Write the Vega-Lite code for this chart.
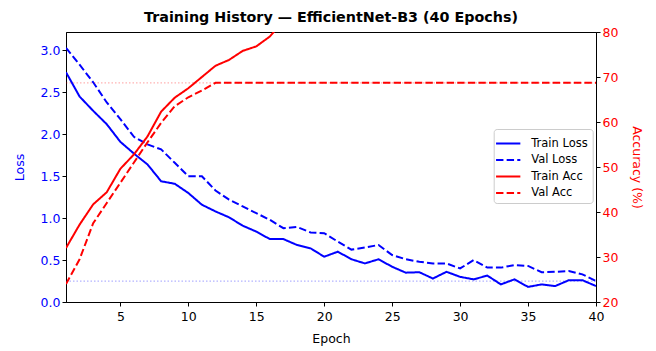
{
  "$schema": "https://vega.github.io/schema/vega-lite/v6.json",
  "width": 530,
  "height": 270,
  "autosize": {"type": "none"},
  "padding": {"left": 66, "top": 32, "right": 60, "bottom": 49},
  "title": {"text": "Training History — EfficientNet-B3 (40 Epochs)", "font": "DejaVu Sans", "fontSize": 14.3, "fontWeight": "bold", "color": "black", "anchor": "middle", "offset": 1},
  "config": {
    "font": "DejaVu Sans",
    "view": {"stroke": "black", "strokeWidth": 1},
    "axis": {"grid": false, "domainColor": "black", "tickColor": "black", "tickSize": 4, "labelFlush": false, "labelOverlap": false, "labelFontSize": 12.5, "titleFontSize": 12.5, "titleFontWeight": "normal", "labelFont": "DejaVu Sans", "titleFont": "DejaVu Sans"}
  },
  "data": {"values": [
    {"epoch": 1, "Train Loss": 2.74, "Val Loss": 3.03, "Train Acc": 32.0, "Val Acc": 24.0},
    {"epoch": 2, "Train Loss": 2.45, "Val Loss": 2.83, "Train Acc": 37.2, "Val Acc": 29.5},
    {"epoch": 3, "Train Loss": 2.28, "Val Loss": 2.62, "Train Acc": 41.7, "Val Acc": 37.5},
    {"epoch": 4, "Train Loss": 2.12, "Val Loss": 2.38, "Train Acc": 44.4, "Val Acc": 42.0},
    {"epoch": 5, "Train Loss": 1.91, "Val Loss": 2.18, "Train Acc": 49.6, "Val Acc": 46.5},
    {"epoch": 6, "Train Loss": 1.77, "Val Loss": 1.97, "Train Acc": 52.8, "Val Acc": 51.0},
    {"epoch": 7, "Train Loss": 1.64, "Val Loss": 1.88, "Train Acc": 56.8, "Val Acc": 55.5},
    {"epoch": 8, "Train Loss": 1.44, "Val Loss": 1.82, "Train Acc": 62.3, "Val Acc": 59.8},
    {"epoch": 9, "Train Loss": 1.41, "Val Loss": 1.66, "Train Acc": 65.4, "Val Acc": 63.5},
    {"epoch": 10, "Train Loss": 1.30, "Val Loss": 1.50, "Train Acc": 67.5, "Val Acc": 65.5},
    {"epoch": 11, "Train Loss": 1.16, "Val Loss": 1.50, "Train Acc": 70.0, "Val Acc": 67.0},
    {"epoch": 12, "Train Loss": 1.08, "Val Loss": 1.33, "Train Acc": 72.5, "Val Acc": 68.7},
    {"epoch": 13, "Train Loss": 1.01, "Val Loss": 1.22, "Train Acc": 73.8, "Val Acc": 68.7},
    {"epoch": 14, "Train Loss": 0.91, "Val Loss": 1.14, "Train Acc": 75.8, "Val Acc": 68.7},
    {"epoch": 15, "Train Loss": 0.84, "Val Loss": 1.06, "Train Acc": 76.8, "Val Acc": 68.7},
    {"epoch": 16, "Train Loss": 0.75, "Val Loss": 0.98, "Train Acc": 79.0, "Val Acc": 68.7},
    {"epoch": 17, "Train Loss": 0.75, "Val Loss": 0.88, "Train Acc": 82.5, "Val Acc": 68.7},
    {"epoch": 18, "Train Loss": 0.68, "Val Loss": 0.895, "Train Acc": 84.2, "Val Acc": 68.7},
    {"epoch": 19, "Train Loss": 0.64, "Val Loss": 0.83, "Train Acc": 85.5, "Val Acc": 68.7},
    {"epoch": 20, "Train Loss": 0.54, "Val Loss": 0.82, "Train Acc": 87.1, "Val Acc": 68.7},
    {"epoch": 21, "Train Loss": 0.60, "Val Loss": 0.72, "Train Acc": 87.9, "Val Acc": 68.7},
    {"epoch": 22, "Train Loss": 0.51, "Val Loss": 0.625, "Train Acc": 89.0, "Val Acc": 68.7},
    {"epoch": 23, "Train Loss": 0.46, "Val Loss": 0.65, "Train Acc": 89.8, "Val Acc": 68.7},
    {"epoch": 24, "Train Loss": 0.51, "Val Loss": 0.68, "Train Acc": 90.3, "Val Acc": 68.7},
    {"epoch": 25, "Train Loss": 0.42, "Val Loss": 0.56, "Train Acc": 91.2, "Val Acc": 68.7},
    {"epoch": 26, "Train Loss": 0.35, "Val Loss": 0.51, "Train Acc": 92.0, "Val Acc": 68.7},
    {"epoch": 27, "Train Loss": 0.355, "Val Loss": 0.48, "Train Acc": 92.4, "Val Acc": 68.7},
    {"epoch": 28, "Train Loss": 0.28, "Val Loss": 0.46, "Train Acc": 93.1, "Val Acc": 68.7},
    {"epoch": 29, "Train Loss": 0.36, "Val Loss": 0.46, "Train Acc": 92.8, "Val Acc": 68.7},
    {"epoch": 30, "Train Loss": 0.30, "Val Loss": 0.40, "Train Acc": 93.6, "Val Acc": 68.7},
    {"epoch": 31, "Train Loss": 0.27, "Val Loss": 0.50, "Train Acc": 94.0, "Val Acc": 68.7},
    {"epoch": 32, "Train Loss": 0.315, "Val Loss": 0.41, "Train Acc": 94.2, "Val Acc": 68.7},
    {"epoch": 33, "Train Loss": 0.21, "Val Loss": 0.41, "Train Acc": 94.9, "Val Acc": 68.7},
    {"epoch": 34, "Train Loss": 0.27, "Val Loss": 0.44, "Train Acc": 94.7, "Val Acc": 68.7},
    {"epoch": 35, "Train Loss": 0.18, "Val Loss": 0.43, "Train Acc": 95.3, "Val Acc": 68.7},
    {"epoch": 36, "Train Loss": 0.21, "Val Loss": 0.355, "Train Acc": 95.5, "Val Acc": 68.7},
    {"epoch": 37, "Train Loss": 0.19, "Val Loss": 0.36, "Train Acc": 95.6, "Val Acc": 68.7},
    {"epoch": 38, "Train Loss": 0.26, "Val Loss": 0.37, "Train Acc": 95.4, "Val Acc": 68.7},
    {"epoch": 39, "Train Loss": 0.26, "Val Loss": 0.33, "Train Acc": 95.8, "Val Acc": 68.7},
    {"epoch": 40, "Train Loss": 0.19, "Val Loss": 0.25, "Train Acc": 96.1, "Val Acc": 68.7}
  ]},
  "transform": [{"fold": ["Train Loss", "Val Loss", "Train Acc", "Val Acc"], "as": ["series", "value"]}],
  "layer": [
    {
      "layer": [
        {
          "transform": [{"filter": "datum.series === 'Val Loss'"}],
          "mark": {"type": "rule", "color": "#0000ff", "opacity": 0.3, "strokeWidth": 1.2, "strokeDash": [1.5, 2]},
          "encoding": {
            "y": {"aggregate": "min", "field": "value", "type": "quantitative", "scale": {"domain": [0, 3.22], "nice": false, "zero": false},
              "axis": {"orient": "left", "title": "Loss", "titleColor": "#0000ff", "labelColor": "#0000ff", "values": [0, 0.5, 1, 1.5, 2, 2.5, 3], "format": ".1f", "titlePadding": 14}}
          }
        },
        {
          "transform": [{"filter": "datum.series === 'Train Loss' || datum.series === 'Val Loss'"}],
          "mark": {"type": "line", "strokeWidth": 2, "clip": true},
          "encoding": {
            "x": {"field": "epoch", "type": "quantitative", "scale": {"domain": [1, 40], "nice": false, "zero": false}, "axis": {"title": "Epoch", "values": [5, 10, 15, 20, 25, 30, 35, 40], "labelColor": "black", "titleColor": "black", "labelPadding": 4, "titlePadding": 10}},
            "y": {"field": "value", "type": "quantitative", "scale": {"domain": [0, 3.22], "nice": false, "zero": false},
              "axis": {"orient": "left", "title": "Loss", "titleColor": "#0000ff", "labelColor": "#0000ff", "values": [0, 0.5, 1, 1.5, 2, 2.5, 3], "format": ".1f", "titlePadding": 14}},
            "color": {"field": "series", "type": "nominal", "title": null,
              "scale": {"domain": ["Train Loss", "Val Loss", "Train Acc", "Val Acc"], "range": ["#0000ff", "#0000ff", "#ff0000", "#ff0000"]},
              "legend": {"orient": "none", "legendX": 427.7, "legendY": 97, "fillColor": "white", "strokeColor": "#cccccc", "cornerRadius": 3, "padding": 4.5, "labelFontSize": 11.5, "labelFont": "DejaVu Sans", "labelColor": "black", "symbolType": "M-1.35,0H1.35", "symbolStrokeWidth": 2, "symbolSize": 324, "rowPadding": 0.5, "labelOffset": 13}},
            "strokeDash": {"field": "series", "type": "nominal", "title": null,
              "scale": {"domain": ["Train Loss", "Val Loss", "Train Acc", "Val Acc"], "range": [[1, 0], [7.4, 3.2], [1, 0], [7.4, 3.2]]},
              "legend": {"orient": "none", "legendX": 427.7, "legendY": 97, "fillColor": "white", "strokeColor": "#cccccc", "cornerRadius": 3, "padding": 4.5, "labelFontSize": 11.5, "labelFont": "DejaVu Sans", "labelColor": "black", "symbolType": "M-1.35,0H1.35", "symbolStrokeWidth": 2, "symbolSize": 324, "rowPadding": 0.5, "labelOffset": 13}}
          }
        }
      ]
    },
    {
      "layer": [
        {
          "transform": [{"filter": "datum.series === 'Val Acc'"}],
          "mark": {"type": "rule", "color": "#ff0000", "opacity": 0.3, "strokeWidth": 1.2, "strokeDash": [1.5, 2]},
          "encoding": {
            "y": {"aggregate": "max", "field": "value", "type": "quantitative", "scale": {"domain": [20, 80], "nice": false, "zero": false},
              "axis": {"orient": "right", "title": "Accuracy (%)", "titleColor": "#ff0000", "labelColor": "#ff0000", "values": [20, 30, 40, 50, 60, 70, 80], "titlePadding": 12}}
          }
        },
        {
          "transform": [{"filter": "datum.series === 'Train Acc' || datum.series === 'Val Acc'"}],
          "mark": {"type": "line", "strokeWidth": 2, "clip": true},
          "encoding": {
            "x": {"field": "epoch", "type": "quantitative", "scale": {"domain": [1, 40], "nice": false, "zero": false}, "axis": {"title": "Epoch", "values": [5, 10, 15, 20, 25, 30, 35, 40], "labelColor": "black", "titleColor": "black", "labelPadding": 4, "titlePadding": 10}},
            "y": {"field": "value", "type": "quantitative", "scale": {"domain": [20, 80], "nice": false, "zero": false},
              "axis": {"orient": "right", "title": "Accuracy (%)", "titleColor": "#ff0000", "labelColor": "#ff0000", "values": [20, 30, 40, 50, 60, 70, 80], "titlePadding": 12}},
            "color": {"field": "series", "type": "nominal", "title": null,
              "scale": {"domain": ["Train Loss", "Val Loss", "Train Acc", "Val Acc"], "range": ["#0000ff", "#0000ff", "#ff0000", "#ff0000"]}},
            "strokeDash": {"field": "series", "type": "nominal", "title": null,
              "scale": {"domain": ["Train Loss", "Val Loss", "Train Acc", "Val Acc"], "range": [[1, 0], [7.4, 3.2], [1, 0], [7.4, 3.2]]}}
          }
        }
      ]
    }
  ],
  "resolve": {"scale": {"y": "independent"}}
}
